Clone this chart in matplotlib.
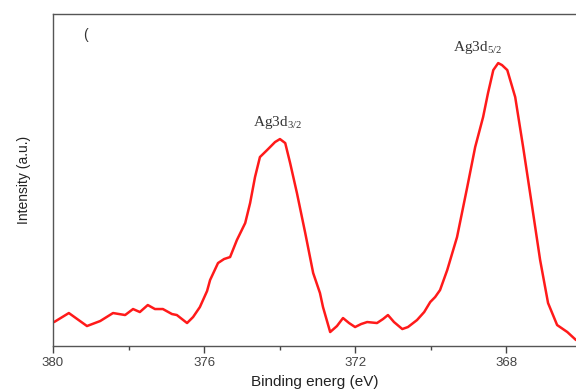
import matplotlib
matplotlib.use("Agg")
import matplotlib.pyplot as plt
from matplotlib.ticker import MultipleLocator

# Binding energy (eV) and intensity (a.u.)
energy = [379.97, 379.58, 379.10, 378.75, 378.41, 378.09, 377.88, 377.70, 377.49, 377.30,
          377.09, 376.85, 376.72, 376.45, 376.29, 376.11, 375.92, 375.84, 375.63, 375.47,
          375.31, 375.13, 374.91, 374.78, 374.65, 374.52, 374.33, 374.12, 373.99, 373.85,
          373.72, 373.54, 373.32, 373.11, 372.93, 372.85, 372.66, 372.48, 372.32, 372.16,
          372.00, 371.84, 371.68, 371.42, 371.26, 371.13, 370.97, 370.75, 370.60, 370.36,
          370.17, 370.01, 369.88, 369.75, 369.56, 369.30, 369.03, 368.82, 368.61, 368.48,
          368.34, 368.21, 368.11, 367.97, 367.76, 367.55, 367.31, 367.10, 366.89, 366.65,
          366.38, 366.15]
intensity = [24, 33, 20, 25, 33, 31, 37, 34, 41, 37,
             37, 32, 31, 23, 29, 39, 55, 66, 83, 87,
             89, 106, 123, 143, 169, 189, 196, 204, 207, 203,
             183, 153, 113, 73, 53, 39, 14, 20, 28, 23,
             19, 22, 24, 23, 27, 31, 24, 17, 19, 26,
             34, 44, 49, 56, 76, 109, 159, 199, 229, 253,
             276, 283, 281, 276, 249, 199, 139, 86, 43, 21,
             14, 6]

peak_labels = [r"Ag3d$_{\mathregular{3/2}}$", r"Ag3d$_{\mathregular{5/2}}$"]
peak_label_pos = [(374.70, 224), (369.40, 299)]

plt.rcParams["font.family"] = ["Liberation Sans", "DejaVu Sans"]

fig = plt.figure(figsize=(5.76, 3.91), dpi=100)
ax = fig.add_axes([0.092, 0.115, 0.908, 0.849])

ax.plot(energy, intensity, color="#ff1a1a", lw=1.8,
        solid_joinstyle="round", solid_capstyle="round")

ax.set_xlim(380, 366.15)
ax.set_ylim(0, 332)
ax.xaxis.set_major_locator(MultipleLocator(4))
ax.xaxis.set_minor_locator(MultipleLocator(2))
ax.set_yticks([])
ax.tick_params(axis="x", which="major", direction="out", length=5, width=1,
               color="#444444", labelsize=9.5, labelcolor="#444444", pad=3)
ax.tick_params(axis="x", which="minor", direction="out", length=3, width=1,
               color="#444444")

for side in ["left", "bottom", "top"]:
    ax.spines[side].set_color("#555555")
    ax.spines[side].set_linewidth(1.0)
ax.spines["right"].set_visible(False)

ax.set_xlabel("Binding energ (eV)", fontsize=11, color="#222222", labelpad=4)
ax.set_ylabel("Intensity (a.u.)", fontsize=10, color="#222222", labelpad=16)

for lab, (x, y) in zip(peak_labels, peak_label_pos):
    ax.text(x, y, lab, family="Liberation Serif", fontsize=11, color="#333333",
            ha="left", va="center")

# leftover of the panel letter
ax.text(379.13, 311, "(", fontsize=10, color="#333333", ha="center", va="center")

fig.savefig("out.png", dpi=100)
